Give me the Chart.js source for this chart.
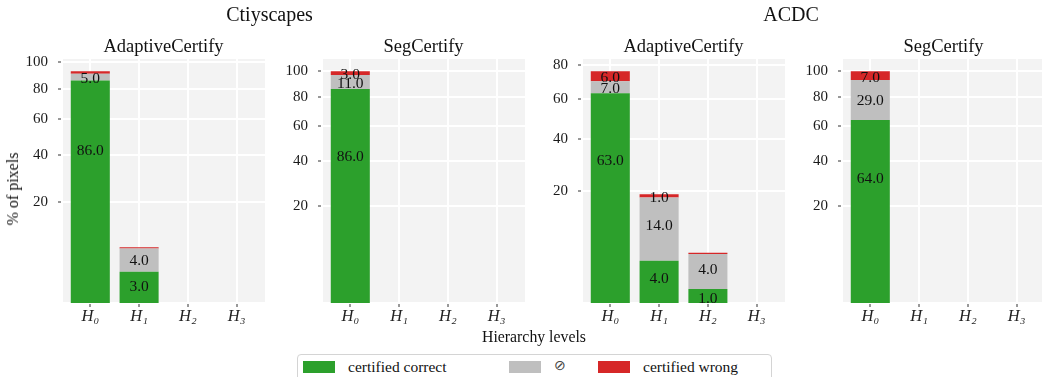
<!DOCTYPE html>
<html>
<head>
<meta charset="utf-8">
<script src="https://cdn.jsdelivr.net/npm/chart.js@4.4.1/dist/chart.umd.min.js"></script>
<style>
  html, body { margin: 0; padding: 0; background: #fff; overflow: hidden; width: 1042px; height: 377px; }
  body { position: relative; font-family: "Liberation Serif", "Times New Roman", serif; color: #111; }
  canvas { position: absolute; }
  .txt { position: absolute; white-space: nowrap; line-height: 1; }
  .legend-box { position: absolute; border: 1px solid #d4d4d4; border-radius: 4px; background: #fff; box-sizing: border-box; }
  .patch { position: absolute; }
</style>
</head>
<body>
<script>
// Hierarchy levels on the x axis and y tick values (percent of pixels, square-root axis)
const levels = ['H₀', 'H₁', 'H₂', 'H₃'];
const yTickValues = [20, 40, 60, 80, 100];

const seriesNames = ['certified correct', '⊘', 'certified wrong'];
const seriesColors = ['#2ca02c', '#bfbfbf', '#d62728'];

// Cityscapes — AdaptiveCertify
const cityAdaptiveCorrect = [86, 3, 0, 0];
const cityAdaptiveAbstain = [5, 4, 0, 0];
const cityAdaptiveWrong   = [2, 0.3, 0, 0];

// Cityscapes — SegCertify
const citySegCorrect = [86, 0, 0, 0];
const citySegAbstain = [11, 0, 0, 0];
const citySegWrong   = [3, 0, 0, 0];

// ACDC — AdaptiveCertify
const acdcAdaptiveCorrect = [63, 4, 1, 0];
const acdcAdaptiveAbstain = [7, 14, 4, 0];
const acdcAdaptiveWrong   = [6, 1, 0.2, 0];

// ACDC — SegCertify
const acdcSegCorrect = [64, 0, 0, 0];
const acdcSegAbstain = [29, 0, 0, 0];
const acdcSegWrong   = [7, 0, 0, 0];

const FONT = '"Liberation Serif", "Times New Roman", serif';

// Square-root value axis
class SqrtScale extends Chart.LinearScale {
  static id = 'sqrt';
  getPixelForValue(value) {
    if (value === undefined || value === null || isNaN(value)) return NaN;
    const lo = Math.sqrt(this.min), hi = Math.sqrt(this.max);
    return this.getPixelForDecimal((Math.sqrt(Math.max(value, 0)) - lo) / (hi - lo));
  }
  getValueForPixel(pixel) {
    const lo = Math.sqrt(this.min), hi = Math.sqrt(this.max);
    const s = lo + this.getDecimalForPixel(pixel) * (hi - lo);
    return s * s;
  }
}
Chart.register(SqrtScale);

// Light panel background behind the grid
const panelBackground = {
  id: 'panelBackground',
  beforeDraw(chart) {
    const a = chart.chartArea, ctx = chart.ctx;
    ctx.save();
    ctx.fillStyle = '#f3f3f3';
    ctx.fillRect(a.left, a.top, a.right - a.left, a.bottom - a.top);
    ctx.restore();
  }
};

// Value written in the middle of each stacked segment
const segmentLabels = {
  id: 'segmentLabels',
  afterDatasetsDraw(chart, args, opts) {
    const ctx = chart.ctx, yScale = chart.scales.y;
    const sets = chart.data.datasets;
    const hide = opts.hide || [];
    ctx.save();
    ctx.font = '15.5px ' + FONT;
    ctx.fillStyle = '#111';
    ctx.textAlign = 'center';
    ctx.textBaseline = 'alphabetic';
    sets.forEach((ds, d) => {
      const meta = chart.getDatasetMeta(d);
      ds.data.forEach((pt, i) => {
        const v = pt.y;
        if (v < 1 || hide.some(h => h[0] === d && h[1] === i)) return;
        let start = 0;
        for (let k = 0; k < d; k++) start += sets[k].data[i].y;
        const py = yScale.getPixelForValue(start + v / 2);
        ctx.fillText(v.toFixed(1), meta.data[i].x, py + 6);
      });
    });
    ctx.restore();
  }
};

function addText(str, x, baseline, size, align, extra) {
  const el = document.createElement('div');
  el.className = 'txt';
  el.textContent = str;
  el.style.fontSize = size + 'px';
  el.style.top = (baseline - 0.8375 * size) + 'px';
  el.style.left = x + 'px';
  if (align === 'center') el.style.transform = 'translateX(-50%)';
  if (extra) Object.assign(el.style, extra);
  document.body.appendChild(el);
  return el;
}

const PLOT_TOP = 59, PLOT_H = 244, PLOT_W = 203, Y_AXIS_W = 62, PAD_TOP = 24, X_AXIS_H = 34;
const Y_MIN = 0.25;

function makePanel(plotLeft, title, correct, abstain, wrong, hide) {
  const canvas = document.createElement('canvas');
  const cw = Y_AXIS_W + PLOT_W + 2, ch = PAD_TOP + PLOT_H + X_AXIS_H;
  canvas.width = cw; canvas.height = ch;
  canvas.style.width = cw + 'px'; canvas.style.height = ch + 'px';
  canvas.style.left = (plotLeft - Y_AXIS_W) + 'px';
  canvas.style.top = (PLOT_TOP - PAD_TOP) + 'px';
  document.body.appendChild(canvas);

  addText(title, plotLeft + PLOT_W / 2, 52.5, 18.5, 'center');

  const series = [correct, abstain, wrong];
  const totals = correct.map((_, i) => correct[i] + abstain[i] + wrong[i]);
  const top = Math.pow(1.05 * Math.sqrt(Math.max(...totals)), 2);

  const gridStyle = { color: '#ffffff', lineWidth: 2, tickColor: '#333', tickLength: 4, tickWidth: 1, offset: false };
  const borderStyle = { display: true, color: '#ffffff', width: 2 };

  new Chart(canvas, {
    type: 'bar',
    data: {
      datasets: series.map((vals, s) => ({
        label: seriesNames[s],
        data: vals.map((v, i) => ({ x: i, y: v })),
        backgroundColor: seriesColors[s],
        borderWidth: 0
      }))
    },
    options: {
      responsive: false,
      animation: false,
      devicePixelRatio: 1,
      layout: { padding: { top: PAD_TOP, right: 2, bottom: 0, left: 0 } },
      datasets: { bar: { categoryPercentage: 0.8, barPercentage: 1, clip: 0 } },
      plugins: {
        legend: { display: false },
        tooltip: { enabled: false },
        segmentLabels: { hide: hide }
      },
      scales: {
        x: {
          type: 'linear', stacked: true, offset: false, bounds: 'data', min: -0.58, max: 3.58,
          afterBuildTicks: s => { s.ticks = levels.map((_, i) => ({ value: i })); s.min = -0.58; s.max = 3.58; },
          afterFit: s => { s.height = X_AXIS_H; },
          ticks: {
            callback: v => levels[v], autoSkip: false, maxRotation: 0,
            font: { family: FONT, size: 16.5, style: 'italic' }, color: '#222', padding: 0
          },
          grid: gridStyle, border: borderStyle
        },
        y: {
          type: 'sqrt', stacked: true, bounds: 'data', min: Y_MIN, max: top,
          afterBuildTicks: s => {
            s.ticks = yTickValues.filter(v => v <= top).map(v => ({ value: v }));
            s.min = Y_MIN; s.max = top;
          },
          afterFit: s => { s.width = Y_AXIS_W; },
          ticks: {
            callback: v => String(v),
            font: { family: FONT, size: 15 }, color: '#1a1a1a', padding: 10
          },
          grid: gridStyle, border: borderStyle
        }
      }
    },
    plugins: [panelBackground, segmentLabels]
  });
}

const panelLefts = [62, 322, 582, 842];
makePanel(panelLefts[0], 'AdaptiveCertify', cityAdaptiveCorrect, cityAdaptiveAbstain, cityAdaptiveWrong, [[2, 0]]);
makePanel(panelLefts[1], 'SegCertify', citySegCorrect, citySegAbstain, citySegWrong, []);
makePanel(panelLefts[2], 'AdaptiveCertify', acdcAdaptiveCorrect, acdcAdaptiveAbstain, acdcAdaptiveWrong, []);
makePanel(panelLefts[3], 'SegCertify', acdcSegCorrect, acdcSegAbstain, acdcSegWrong, []);

// Dataset group titles
addText('Ctiyscapes', 269.5, 21, 20, 'center');
addText('ACDC', 791, 21, 20, 'center');

// Shared axis titles
addText('Hierarchy levels', 534, 342.7, 15.8, 'center');
const ylab = addText('% of pixels', 13, 188.5, 16, null);
ylab.style.top = '188.5px';
ylab.style.transform = 'translate(-50%, -50%) rotate(-90deg)';

// Legend
const box = document.createElement('div');
box.className = 'legend-box';
Object.assign(box.style, { left: '297px', top: '354px', width: '475px', height: '40px' });
document.body.appendChild(box);
const legendX = [303, 509, 598];
const legendTextGap = 45;
seriesNames.forEach((name, s) => {
  const p = document.createElement('div');
  p.className = 'patch';
  Object.assign(p.style, { left: legendX[s] + 'px', top: '361px', width: '32px', height: '11.7px', background: seriesColors[s] });
  document.body.appendChild(p);
  const t = addText(name, legendX[s] + legendTextGap, 371.7, 15.5, null);
  if (name === '⊘') { t.style.color = '#444'; t.style.fontSize = '14px'; }
});
</script>
</body>
</html>
